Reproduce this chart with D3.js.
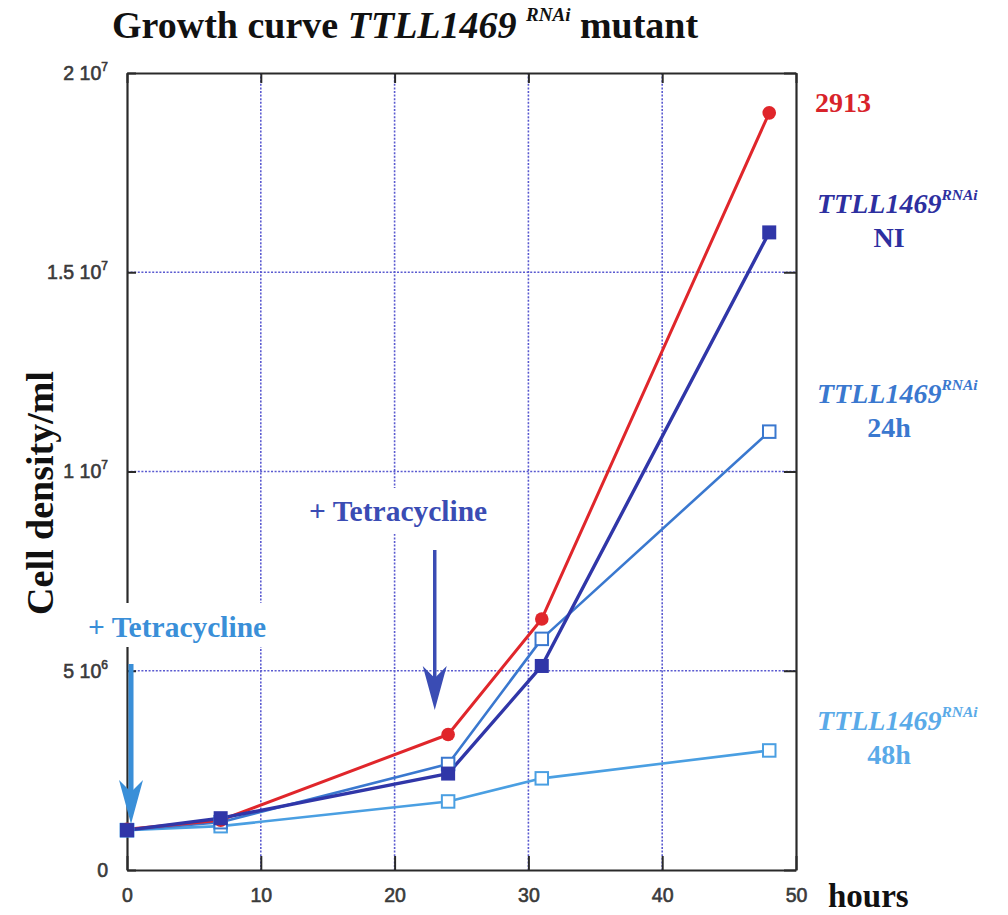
<!DOCTYPE html>
<html>
<head>
<meta charset="utf-8">
<script src="https://cdn.jsdelivr.net/npm/d3@7"></script>
<style>
  html, body { margin: 0; padding: 0; background: #fff; }
  svg { display: block; }
</style>
</head>
<body>
<svg id="chart" width="1008" height="915"></svg>
<script>
// Growth of TTLL1469 RNAi cell lines: sampling times and cell densities (cells/ml)
const hours = [0, 7, 24, 31, 48];
const wt2913 = [1.02e6, 1.25e6, 3.4e6, 6.3e6, 1.9e7];
const rnaiNI = [1.0e6, 1.3e6, 2.42e6, 5.12e6, 1.6e7];
const rnai24h = [1.0e6, 1.2e6, 2.66e6, 5.8e6, 1.1e7];
const rnai48h = [1.0e6, 1.1e6, 1.72e6, 2.3e6, 3.0e6];

const xTicks = [0, 10, 20, 30, 40, 50];
const xGrid = [10, 20, 30, 40];
const yTicks = [0, 5e6, 1e7, 1.5e7, 2e7];
const yGrid = [5e6, 1e7, 1.5e7];
const yTickMantissa = ["0", "5 10", "1 10", "1.5 10", "2 10"];
const yTickExponent = ["", "6", "7", "7", "7"];

// Tetracycline induction times for the 48h and 24h lines
const inductionHours = [0, 23];

const series = [
  { key: "48h", values: rnai48h, color: "#4a9fe2", filled: false, shape: "square", width: 2.6 },
  { key: "24h", values: rnai24h, color: "#3a78cf", filled: false, shape: "square", width: 2.6 },
  { key: "2913", values: wt2913, color: "#e0262b", filled: true, shape: "circle", width: 3 },
  { key: "NI", values: rnaiNI, color: "#3036a8", filled: true, shape: "square", width: 3.4 }
];

const svg = d3.select("#chart");
const x = d3.scaleLinear().domain([0, 50]).range([127, 796]);
const y = d3.scaleLinear().domain([0, 2e7]).range([870, 73]);

const serif = "'Liberation Serif', 'Times New Roman', serif";
const sans = "'Liberation Sans', Arial, Helvetica, sans-serif";

// dotted grid
const grid = svg.append("g").attr("stroke", "#5a5ad0").attr("stroke-width", 1.6)
  .attr("stroke-dasharray", "2,1.6");
grid.selectAll("line.v").data(xGrid).join("line").attr("class", "v")
  .attr("x1", d => x(d)).attr("x2", d => x(d)).attr("y1", y(2e7)).attr("y2", y(0));
grid.selectAll("line.h").data(yGrid).join("line").attr("class", "h")
  .attr("x1", x(0)).attr("x2", x(50)).attr("y1", d => y(d)).attr("y2", d => y(d));

// axes with inward ticks
const axisB = svg.append("g").attr("transform", `translate(0,${y(0)})`)
  .call(d3.axisBottom(x).tickValues(xTicks).tickSizeInner(-14).tickSizeOuter(0).tickPadding(21));
const axisT = svg.append("g").attr("transform", `translate(0,${y(2e7)})`)
  .call(d3.axisTop(x).tickValues(xTicks).tickSizeInner(-10).tickSizeOuter(0).tickFormat(""));
const axisL = svg.append("g").attr("transform", `translate(${x(0)},0)`)
  .call(d3.axisLeft(y).tickValues(yTicks).tickSizeInner(-9).tickSizeOuter(0).tickPadding(19)
    .tickFormat((d, i) => yTickMantissa[i]));
const axisR = svg.append("g").attr("transform", `translate(${x(50)},0)`)
  .call(d3.axisRight(y).tickValues(yTicks).tickSizeInner(-12).tickSizeOuter(0).tickFormat(""));

[axisB, axisT, axisL, axisR].forEach(g => {
  g.select(".domain").attr("stroke", "#2a2a2a").attr("stroke-width", 2.2);
  g.selectAll(".tick line").attr("stroke", "#2a2a2a").attr("stroke-width", 2);
  g.selectAll(".tick text").attr("font-family", sans).attr("font-size", 19.5)
    .attr("fill", "#3a3a3a").attr("stroke", "#3a3a3a").attr("stroke-width", 0.6);
});
axisB.selectAll(".tick text").attr("dy", "0.55em");
axisL.selectAll(".tick text").each(function(d, i) {
  const t = d3.select(this);
  if (yTickExponent[i]) {
    t.append("tspan").attr("font-size", 12).attr("dy", "-0.75em").text(yTickExponent[i]);
  }
});

// series lines and markers
const line = d3.line().x((d, i) => x(hours[i])).y(d => y(d));
series.forEach(s => {
  svg.append("path").datum(s.values).attr("fill", "none").attr("stroke", s.color)
    .attr("stroke-width", s.width).attr("stroke-linejoin", "round").attr("d", line);
});
series.forEach(s => {
  const g = svg.append("g");
  if (s.shape === "circle") {
    g.selectAll("circle").data(s.values).join("circle")
      .attr("cx", (d, i) => x(hours[i])).attr("cy", d => y(d)).attr("r", 6.8)
      .attr("fill", s.color);
  } else {
    const size = s.filled ? 14 : 12.5;
    g.selectAll("rect").data(s.values).join("rect")
      .attr("x", (d, i) => x(hours[i]) - size / 2).attr("y", d => y(d) - size / 2)
      .attr("width", size).attr("height", size)
      .attr("fill", s.filled ? s.color : "#fff")
      .attr("stroke", s.color).attr("stroke-width", s.filled ? 0 : 2);
  }
});

// induction annotations: label on a white plate and a downward arrow
function induction(hour, color, labelX, labelY, plate, arrowTop, arrowTip, shaftW) {
  svg.append("rect").attr("x", plate[0]).attr("y", plate[1]).attr("width", plate[2]).attr("height", plate[3])
    .attr("fill", "#fff");
  svg.append("text").attr("x", labelX).attr("y", labelY)
    .attr("font-family", serif).attr("font-weight", "bold").attr("font-size", 29.5)
    .attr("fill", color).text("+ Tetracycline");
  const ax = x(hour);
  const headLen = 44, headW = 12, notch = 12;
  svg.append("line").attr("x1", ax).attr("x2", ax).attr("y1", arrowTop).attr("y2", arrowTip - headLen + notch)
    .attr("stroke", color).attr("stroke-width", shaftW);
  svg.append("path")
    .attr("d", `M${ax},${arrowTip} L${ax - headW},${arrowTip - headLen} L${ax},${arrowTip - headLen + notch} L${ax + headW},${arrowTip - headLen} Z`)
    .attr("fill", color);
}
induction(inductionHours[1], "#3a4cb4", 309, 521, [300, 488, 200, 46], 550, 710, 3.5);
induction(inductionHours[0] + 0.3, "#3a8fd8", 88, 637, [82, 603, 195, 44], 664, 824, 5);

// series labels at the right
function seriesLabel(color, yTop, second) {
  const t = svg.append("text").attr("x", 817).attr("y", yTop)
    .attr("font-family", serif).attr("font-weight", "bold").attr("font-size", 28).attr("fill", color);
  t.append("tspan").attr("font-style", "italic").text("TTLL1469");
  t.append("tspan").attr("font-style", "italic").attr("font-size", 15.5).attr("dy", "-0.85em").text("RNAi");
  svg.append("text").attr("x", 889).attr("y", yTop + 34).attr("text-anchor", "middle")
    .attr("font-family", serif).attr("font-weight", "bold").attr("font-size", 28).attr("fill", color)
    .text(second);
}
svg.append("text").attr("x", 815).attr("y", 112)
  .attr("font-family", serif).attr("font-weight", "bold").attr("font-size", 28).attr("fill", "#d8232a")
  .text("2913");
seriesLabel("#2d2fa0", 213, "NI");
seriesLabel("#3a78cf", 403, "24h");
seriesLabel("#5aaae8", 730, "48h");

// title
const title = svg.append("text").attr("x", 112).attr("y", 38)
  .attr("font-family", serif).attr("font-weight", "bold").attr("font-size", 38).attr("fill", "#111");
title.append("tspan").text("Growth curve ");
title.append("tspan").attr("font-style", "italic").text("TTLL1469 ");
title.append("tspan").attr("font-style", "italic").attr("font-size", 19).attr("dy", "-0.9em").text("RNAi");
title.append("tspan").attr("dy", "0.45em").text(" mutant");

// axis titles
svg.append("text").attr("transform", "translate(53,493) rotate(-90)").attr("text-anchor", "middle")
  .attr("font-family", serif).attr("font-weight", "bold").attr("font-size", 38).attr("fill", "#111")
  .text("Cell density/ml");
svg.append("text").attr("x", 828).attr("y", 907)
  .attr("font-family", serif).attr("font-weight", "bold").attr("font-size", 33).attr("fill", "#111")
  .text("hours");
</script>
</body>
</html>
